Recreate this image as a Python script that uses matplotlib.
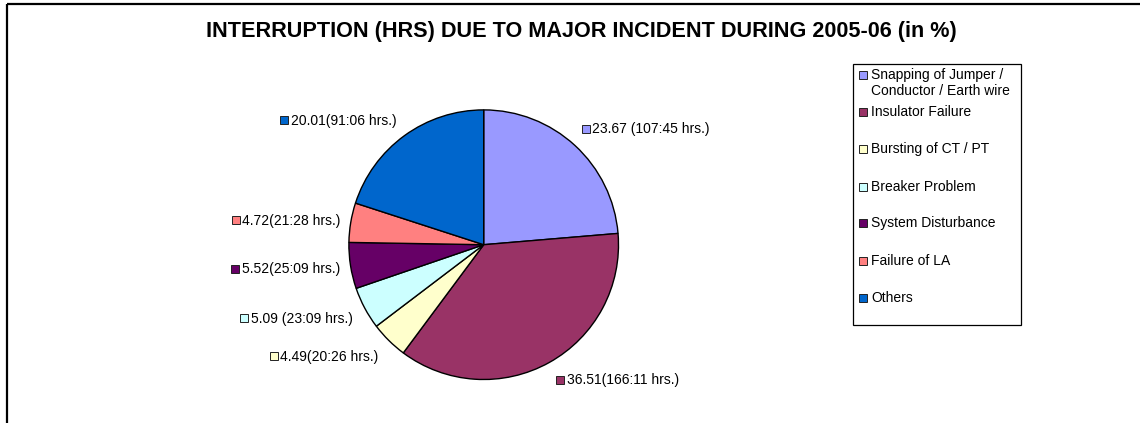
import matplotlib.pyplot as plt
from matplotlib.patches import Rectangle

plt.rcParams['font.family'] = ['Liberation Sans', 'DejaVu Sans']

# chart data
categories = ['Snapping of Jumper /\nConductor / Earth wire', 'Insulator Failure',
              'Bursting of CT / PT', 'Breaker Problem', 'System Disturbance',
              'Failure of LA', 'Others']
percent = [23.67, 36.51, 4.49, 5.09, 5.52, 4.72, 20.01]
slice_labels = ['23.67 (107:45 hrs.)', '36.51(166:11 hrs.)', '4.49(20:26 hrs.)',
                '5.09 (23:09 hrs.)', '5.52(25:09 hrs.)', '4.72(21:28 hrs.)',
                '20.01(91:06 hrs.)']
colors = ['#9999FF', '#993366', '#FFFFCC', '#CCFFFF', '#660066', '#FF8080', '#0066CC']

title = 'INTERRUPTION (HRS) DUE TO MAJOR INCIDENT DURING 2005-06 (in %)'

# layout (pixel coords, y down)
label_pos = [(585.5, 129), (560, 380), (273.5, 356.5), (244, 318.5),
             (235, 269.5), (235.5, 220.5), (284, 120.5)]
legend_y = [75, 111.7, 149.3, 186.7, 223.3, 261, 298.3]


def square(ax, x, y, color):
    ax.plot([x], [y], marker='s', markersize=5.8, color=color,
            markeredgecolor='#222222', markeredgewidth=0.7, linestyle='None')


fig = plt.figure(figsize=(11.4, 4.23), dpi=100)
ax = fig.add_axes([0, 0, 1, 1])

# y axis inverted, so startangle=-90 + counterclock gives clockwise from top
ax.pie(percent, colors=colors, startangle=-90, counterclock=True,
       center=(483.7, 244.7), radius=134.8,
       wedgeprops=dict(edgecolor='black', linewidth=1.0))

ax.set_xlim(0, 1140)
ax.set_ylim(423, 0)
ax.set_aspect('auto')
ax.axis('off')

# chart border
ax.add_patch(Rectangle((7, 4.5), 1300, 600, fill=False, edgecolor='black',
                       linewidth=1.6, clip_on=True))

ax.text(581, 32, title, ha='center', va='center', fontsize=15.6, fontweight='bold')

for (x, y), txt, c in zip(label_pos, slice_labels, colors):
    square(ax, x, y, c)
    ax.text(x + 7, y, txt, ha='left', va='center', fontsize=10)

# legend
ax.add_patch(Rectangle((853, 64), 168, 261, fill=False, edgecolor='black', linewidth=0.9))
for y, cat, c in zip(legend_y, categories, colors):
    square(ax, 863, y, c)
    ax.text(871, y - 7, cat, ha='left', va='top', fontsize=10, linespacing=1.15)

fig.savefig('out.png', dpi=100)
